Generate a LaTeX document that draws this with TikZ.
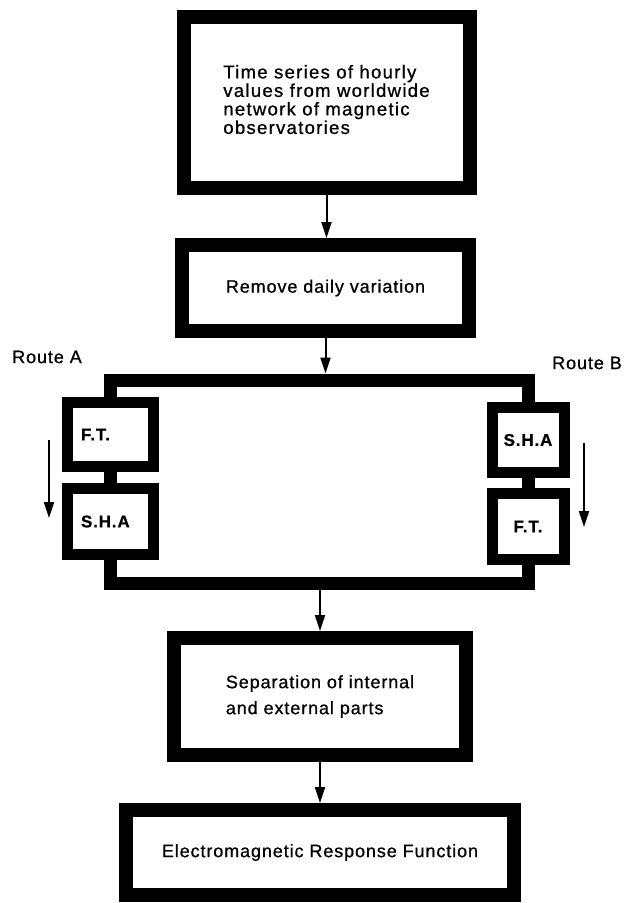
\documentclass[tikz,border=0pt]{standalone}
\usepackage{fontspec}
\setmainfont{Liberation Sans}[LetterSpace=5, FakeBold=0.8]
\usetikzlibrary{arrows.meta}
\tikzset{
  bigbox/.style={draw, line width=14pt, inner sep=0pt, fill=white, font=\fontsize{18}{17}\selectfont},
  smallbox/.style={draw, line width=11pt, inner sep=0pt, fill=white, font=\fontsize{17}{18}\selectfont\bfseries},
  frameline/.style={line width=13pt, line join=miter},
  arr/.style={line width=2pt, -{Triangle[length=16pt,width=10pt]}},
  routelbl/.style={inner sep=0pt, font=\fontsize{18}{22}\selectfont},
}
\begin{document}
\begin{tikzpicture}[x=1pt,y=-1pt]
\useasboundingbox (0,0) rectangle (624,903);
% main boxes
\node[bigbox, minimum width=286pt, minimum height=171pt, font=\fontsize{18.5}{17}\selectfont\addfontfeatures{LetterSpace=7}] (obs) at (326.5,102)
  {\raisebox{5pt}{\begin{tabular}{@{}l@{}}Time series of hourly\\values from worldwide\\network of magnetic\\observatories\end{tabular}}};
\node[bigbox, minimum width=287pt, minimum height=86pt] (rem) at (325.5,288) {Remove daily variation};
\node[bigbox, minimum width=292pt, minimum height=117pt, align=left, font=\fontsize{18}{26}\selectfont] (sep) at (320,696.5)
  {Separation of internal\\and external parts};
\node[bigbox, minimum width=388pt, minimum height=85pt] (emrf) at (320,852.5) {Electromagnetic Response Function};
% small boxes
\node[smallbox, minimum width=86pt, minimum height=64pt, text width=58pt, align=left] (ftA) at (110,434.5) {F.T.};
\node[smallbox, minimum width=86pt, minimum height=66pt, text width=58pt, align=left] (shaA) at (110,521.5) {S.H.A};
\node[smallbox, minimum width=72pt, minimum height=65pt] (shaB) at (528,440) {S.H.A};
\node[smallbox, minimum width=72pt, minimum height=66pt] (ftB) at (528,526.5) {F.T.};
% frame
\coordinate (ftc) at (325.5,380);
\coordinate (ftop) at (325.5,373.5);
\coordinate (fbc) at (320,583);
\coordinate (fbot) at (320,589.5);
\draw[frameline] (ftA.north) |- (ftc) -| (shaB.north);
\draw[frameline] (shaA.south) |- (fbc) -| (ftB.south);
\draw[frameline] (ftA.south) -- (shaA.north);
\draw[frameline] (shaB.south) -- (ftB.north);
% flow arrows
\draw[arr] (obs.south) -- (obs.south |- rem.north);
\draw[arr] (rem.south) -- (ftop);
\draw[arr] (fbot) -- (sep.north);
\draw[arr] (sep.south) -- (emrf.north);
% route labels and arrows
\node[routelbl] (routeA) at (47,357) {Route A};
\node[routelbl, anchor=east] (routeB) at (622,363) {Route B};
\coordinate (aA1) at (49,440);
\coordinate (aA2) at (49,518);
\coordinate (aB1) at (584,443);
\coordinate (aB2) at (584,527);
\draw[arr] (aA1) -- (aA2);
\draw[arr] (aB1) -- (aB2);
\end{tikzpicture}
\end{document}
